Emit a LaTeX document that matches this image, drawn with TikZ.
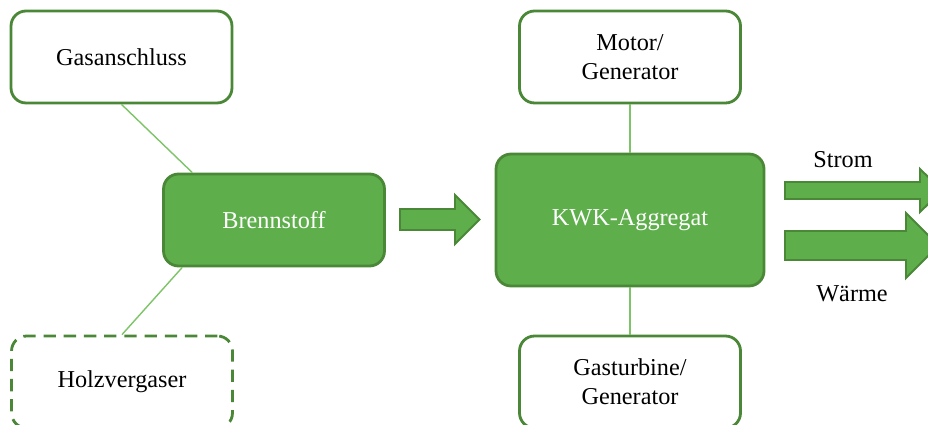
\documentclass[tikz,border=0pt]{standalone}
\usepackage{fontspec}
\setmainfont{Liberation Serif}
\usetikzlibrary{positioning,calc}
\definecolor{kgreen}{RGB}{94,175,76}
\definecolor{kdark}{RGB}{74,135,55}
\definecolor{kline}{RGB}{125,196,104}
\tikzset{
  wb/.style={rectangle, rounded corners=0.3cm, minimum width=4.42cm, minimum height=1.84cm, text centered, align=center, draw=kdark, line width=1.6pt, fill=white, text=black},
  gb/.style={rectangle, rounded corners=0.3cm, minimum width=4.42cm, minimum height=1.84cm, text centered, draw=kdark, line width=1.6pt, fill=kgreen, text=white},
  db/.style={wb, dashed, dash pattern=on 7pt off 4.5pt},
  ln/.style={draw=kline, line width=0.8pt},
  bigarrow/.style={fill=kgreen, draw=kdark, line width=1.1pt, line join=miter}
}
\begin{document}
\begin{tikzpicture}[x=0.02cm, y=-0.02cm, font=\fontsize{13.8}{16.5}\selectfont]
	\useasboundingbox (0,0) rectangle (928,425);
	\clip (0,0) rectangle (928,425);
	% left side
	\node[wb] (gas) at (121.5,57) {Gasanschluss};
	\node[gb] (brenn) at (274,220) {Brennstoff};
	\node[db] (holz) at (122,382) {Holzvergaser};
	% middle
	\node[wb] (motor) at (630,57) {Motor/\\Generator};
	\node[gb, minimum width=5.36cm, minimum height=2.64cm] (kwk) at (630,220) {KWK-Aggregat};
	\node[wb] (gastur) at (630,382) {Gasturbine/\\Generator};
	% lines
	\draw[ln] (gas.south) -- ($(brenn.north west)!0.135!(brenn.north east)$);
	\draw[ln] ($(brenn.south west)!0.09!(brenn.south east)$) -- (holz.north);
	\draw[ln] (motor.south) -- (kwk.north);
	\draw[ln] (kwk.south) -- (gastur.north);
	% arrows
	\draw[bigarrow] (400,209) -- (455,209) -- (455,195) -- (479.5,219.5) -- (455,244) -- (455,230) -- (400,230) -- cycle;
	\draw[bigarrow] (785,182) -- (920,182) -- (920,169) -- (942,190.5) -- (920,212) -- (920,199) -- (785,199) -- cycle;
	\draw[bigarrow] (785,231) -- (906,231) -- (906,213) -- (938.5,245.5) -- (906,278) -- (906,260) -- (785,260) -- cycle;
	\node (strom) at (843,160) {Strom};
	\node (waerme) at (852,294) {Wärme};
\end{tikzpicture}
\end{document}
